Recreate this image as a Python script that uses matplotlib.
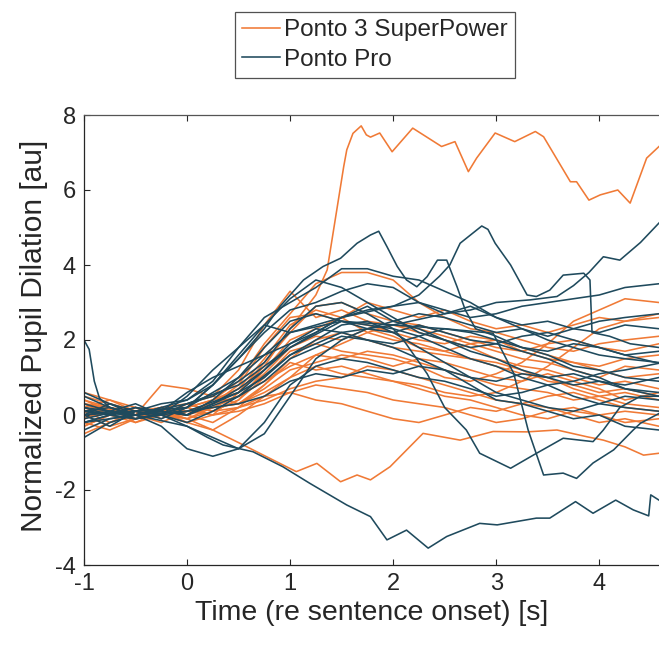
import matplotlib
matplotlib.use("Agg")
import matplotlib.pyplot as plt

plt.rcParams['font.family'] = ['Liberation Sans', 'DejaVu Sans']
plt.rcParams['axes.unicode_minus'] = False

# ---- data ----
t_grid = [-1, -0.75, -0.5, -0.25, 0, 0.25, 0.5, 0.75, 1.0, 1.25, 1.5, 1.75,
          2.0, 2.25, 2.5, 2.75, 3.0, 3.25, 3.5, 3.75, 4.0, 4.25, 4.58]

orange_traces = [
    [0.5, 0.3, 0.1, 0.0, 0.1, 0.3, 0.8, 1.8, 2.6, 2.7, 2.5, 2.4, 2.2, 2.0, 1.9, 2.1, 2.0, 1.7, 1.5, 1.4, 1.3, 1.5, 1.6],
    [0.2, 0.4, 0.1, 0.2, 0.3, 0.5, 1.2, 2.4, 3.3, 2.6, 2.8, 2.5, 2.4, 2.2, 2.0, 1.8, 1.5, 1.3, 1.2, 1.0, 0.8, 0.9, 0.7],
    [-0.3, 0.0, 0.2, -0.1, 0.2, 0.4, 0.9, 1.9, 2.7, 3.5, 3.8, 3.8, 3.6, 3.0, 2.6, 2.3, 2.2, 2.0, 1.8, 1.7, 1.9, 2.0, 2.1],
    [0.1, -0.2, 0.0, 0.1, -0.1, 0.1, 0.4, 1.0, 1.7, 1.9, 1.7, 1.6, 1.5, 1.3, 1.0, 0.9, 1.1, 1.4, 1.9, 2.5, 2.8, 3.1, 3.0],
    [0.4, 0.1, -0.1, 0.0, 0.0, -0.2, 0.2, 0.8, 1.4, 1.2, 1.3, 1.1, 0.9, 0.8, 0.6, 0.5, 0.6, 0.9, 1.3, 1.8, 2.3, 2.5, 2.6],
    [-0.1, 0.2, 0.0, 0.8, 0.7, 0.5, 0.3, 0.8, 1.5, 2.0, 2.2, 2.0, 1.8, 1.7, 1.6, 1.5, 1.3, 1.1, 1.0, 0.7, 0.5, 0.3, 0.2],
    [0.0, -0.3, -0.1, 0.1, 0.0, 0.2, 0.3, 0.6, 1.0, 1.6, 1.9, 2.2, 2.4, 2.3, 2.1, 1.9, 2.0, 1.8, 1.6, 1.4, 1.2, 1.0, 1.1],
    [0.6, 0.4, 0.2, 0.0, -0.2, 0.0, 0.2, 0.4, 0.7, 0.9, 1.0, 1.3, 1.2, 1.0, 0.8, 0.6, 0.4, 0.3, 0.5, 0.6, 0.4, 0.2, 0.1],
    [-0.5, -0.2, 0.1, 0.0, 0.3, 0.1, 0.4, 1.2, 2.0, 2.3, 2.6, 3.0, 2.8, 2.6, 2.8, 2.5, 2.3, 2.4, 2.2, 2.4, 2.6, 2.5, 2.7],
    [0.3, 0.0, -0.2, 0.1, -0.2, -0.4, 0.0, 0.5, 1.0, 1.3, 1.1, 1.0, 0.9, 0.7, 0.5, 0.4, 0.2, 0.0, -0.1, 0.1, 0.0, -0.2, -0.1],
    [0.2, 0.1, 0.0, -0.2, 0.1, 0.0, 0.6, 1.4, 2.2, 2.9, 3.0, 2.7, 2.5, 2.4, 2.2, 2.0, 1.8, 1.7, 1.9, 2.0, 1.8, 1.7, 1.9],
    [-0.2, -0.4, -0.1, 0.2, 0.1, 0.3, 0.5, 0.9, 1.3, 1.6, 1.5, 1.7, 1.6, 1.4, 1.2, 1.0, 0.8, 0.7, 0.6, 0.4, 0.5, 0.6, 0.4],
    [0.1, 0.3, 0.1, 0.0, 0.2, 0.0, 0.1, 0.3, 0.6, 0.8, 0.7, 0.6, 0.4, 0.3, 0.2, 0.0, -0.2, -0.1, 0.1, 0.2, 0.0, 0.1, 0.0],
    [-0.3, 0.0, 0.2, 0.1, -0.1, 0.2, 0.5, 1.1, 1.8, 2.1, 2.0, 2.3, 2.1, 1.8, 1.7, 1.5, 1.4, 1.2, 0.9, 0.8, 0.6, 0.7, 0.5],
    [0.0, 0.2, -0.2, 0.0, 0.1, 0.2, 0.3, 0.7, 1.2, 1.4, 1.6, 1.5, 1.3, 1.5, 1.4, 1.2, 1.0, 0.9, 1.1, 0.9, 0.7, 0.4, 0.6],
    [0.4, 0.2, 0.0, 0.0, 0.3, 0.1, 0.2, 0.5, 0.6, 0.4, 0.3, 0.1, -0.1, -0.2, 0.0, 0.2, 0.1, 0.3, 0.2, 0.0, -0.2, -0.1, -0.3],
    [-0.1, 0.1, 0.0, 0.2, 0.0, 0.4, 0.7, 1.5, 2.4, 2.8, 2.6, 2.2, 2.0, 1.9, 1.7, 1.9, 1.7, 1.5, 1.4, 1.2, 1.0, 1.3, 1.2],
]

blue_traces = [
    [0.0, 0.3, 0.1, -0.1, 0.2, 0.8, 1.5, 2.2, 2.8, 3.0, 3.3, 3.5, 3.4, 3.0, 2.7, 2.9, 2.6, 2.4, 2.5, 2.3, 2.2, 2.4, 2.3],
    [-0.2, 0.0, 0.1, 0.3, 0.4, 0.9, 1.8, 2.6, 3.0, 3.4, 3.9, 3.9, 3.7, 3.6, 3.3, 3.0, 2.6, 2.3, 2.0, 1.8, 1.6, 1.5, 1.4],
    [0.3, 0.1, -0.1, 0.0, -0.3, -0.6, -0.9, -0.5, 0.5, 1.5, 2.0, 2.3, 2.2, 2.4, 2.2, 2.0, 1.9, 2.1, 2.2, 2.0, 1.8, 1.6, 1.38],
    [-0.4, -0.1, 0.0, -0.3, -0.9, -1.1, -0.9, -0.2, 0.8, 1.3, 1.5, 1.4, 1.2, 1.0, 0.9, 0.7, 0.5, 0.6, 0.8, 0.9, 1.1, 1.2, 1.38],
    [0.1, 0.2, 0.0, 0.1, 0.6, 1.0, 1.3, 1.6, 1.9, 2.2, 2.6, 2.8, 2.9, 3.0, 2.8, 2.6, 2.7, 2.9, 3.0, 3.1, 3.2, 3.4, 3.5],
    [-0.2, 0.0, 0.2, 0.0, 0.3, 0.5, 0.9, 1.4, 2.3, 2.9, 3.0, 2.7, 2.3, 2.1, 1.8, 1.5, 1.3, 1.0, 0.8, 0.5, 0.3, 0.2, 0.1],
    [0.5, 0.2, 0.0, 0.1, 0.0, 0.3, 0.6, 1.0, 1.6, 2.0, 2.4, 2.5, 2.2, 1.8, 1.4, 1.0, 0.6, 0.4, 0.2, 0.1, 0.3, 0.5, 0.4],
    [0.0, -0.3, 0.1, 0.0, 0.1, 0.2, 0.3, 0.5, 0.9, 1.1, 1.0, 1.2, 1.1, 1.3, 1.2, 1.0, 0.9, 1.1, 1.0, 0.8, 0.9, 0.7, 0.6],
    [-0.6, -0.2, 0.0, 0.2, 0.0, 0.4, 1.0, 1.8, 2.5, 2.7, 2.5, 2.3, 2.5, 2.7, 2.6, 2.4, 2.2, 2.3, 2.1, 2.3, 2.5, 2.6, 2.7],
    [0.2, 0.0, -0.1, 0.0, -0.2, 0.1, 0.5, 0.9, 1.5, 1.8, 2.1, 2.0, 1.8, 1.5, 1.2, 0.8, 0.4, 0.3, 0.1, -0.1, 0.0, -0.3, -0.4],
    [0.6, 0.3, 0.0, 0.2, 0.4, 0.8, 1.6, 2.4, 3.1, 3.6, 3.4, 3.0, 2.6, 2.2, 2.0, 1.8, 1.9, 1.7, 1.5, 1.2, 1.0, 0.7, 0.5],
    [0.0, 0.1, 0.3, 0.0, 0.5, 1.2, 1.8, 2.4, 2.2, 2.4, 2.6, 2.9, 2.5, 2.3, 2.0, 1.7, 1.5, 1.2, 1.0, 1.1, 0.9, 0.8, 1.0],
]

# orange outlier (goes up to ~7.7)
orange_high_t = [-1, -0.5, 0, 0.5, 0.75, 1.0, 1.25, 1.36, 1.52, 1.55, 1.61, 1.69, 1.74, 1.78, 1.87, 1.99,
                 2.19, 2.47, 2.60, 2.73, 2.81, 2.99, 3.18, 3.38, 3.46, 3.72, 3.78, 3.90, 4.01, 4.18,
                 4.30, 4.46, 4.58]
orange_high_y = [0.3, 0.0, 0.2, 0.6, 1.3, 2.3, 3.2, 3.87, 6.62, 7.07, 7.51, 7.71, 7.47, 7.41, 7.52, 7.02,
                 7.65, 7.16, 7.29, 6.49, 6.85, 7.52, 7.29, 7.56, 7.42, 6.22, 6.22, 5.73, 5.87, 6.0,
                 5.65, 6.85, 7.16]

# orange trace going to ~-1.7
orange_low_t = [-1, -0.5, 0, 0.25, 0.51, 0.77, 1.06, 1.26, 1.49, 1.65, 1.78, 1.97, 2.29, 2.65, 2.97,
                3.3, 3.59, 3.88, 4.04, 4.25, 4.43, 4.58]
orange_low_y = [0.3, 0.1, -0.1, -0.4, -0.75, -1.11, -1.51, -1.29, -1.78, -1.6, -1.73, -1.38, -0.49,
                -0.67, -0.44, -0.45, -0.40, -0.58, -0.67, -0.85, -1.07, -1.02]

# blue trace going down to ~-3.5
blue_low_t = [-1, -0.5, 0, 0.2, 0.35, 0.64, 0.93, 1.19, 1.55, 1.78, 1.94, 2.13, 2.34, 2.52, 2.84,
              3.01, 3.39, 3.52, 3.77, 3.94, 4.16, 4.33, 4.48, 4.50, 4.58]
blue_low_y = [0.2, 0.0, -0.3, -0.6, -0.8, -0.98, -1.38, -1.82, -2.4, -2.71, -3.33, -3.07, -3.55,
              -3.24, -2.89, -2.93, -2.75, -2.75, -2.31, -2.62, -2.27, -2.53, -2.69, -2.13, -2.27]

# blue trace peaking ~4.9 near 1.8 s
blue_top_t = [-1, -0.5, 0, 0.25, 0.5, 0.75, 0.90, 1.13, 1.32, 1.49, 1.65, 1.78, 1.86, 1.94, 2.04,
              2.13, 2.23, 2.33, 2.43, 2.52, 2.62, 2.70, 2.8, 3.0, 3.25, 3.5, 3.75, 4.0, 4.25, 4.58]
blue_top_y = [0.0, 0.1, 0.2, 0.8, 1.5, 2.3, 2.89, 3.6, 3.96, 4.18, 4.58, 4.8, 4.9, 4.49, 3.96,
              3.6, 3.42, 3.69, 4.13, 4.13, 3.42, 2.8, 2.3, 2.1, 1.8, 1.6, 1.3, 1.2, 1.0, 0.9]

# blue trace peaking ~5 near 2.9 s, then a sudden drop
blue_peak_t = [-1, -0.5, 0, 0.5, 1.0, 1.5, 2.0, 2.25, 2.45, 2.55, 2.65, 2.86, 2.92, 2.99, 3.14,
               3.30, 3.39, 3.52, 3.65, 3.85, 3.91, 3.93, 4.1, 4.3, 4.58]
blue_peak_y = [-0.2, 0.0, 0.1, 0.6, 1.8, 2.6, 2.9, 3.2, 3.7, 4.0, 4.58, 5.04, 4.95, 4.58, 4.0,
               3.2, 3.16, 3.33, 3.73, 3.78, 3.6, 2.2, 2.1, 1.9, 1.8]

# blue trace rising to ~5.1 at the right edge
blue_rise_t = [-1, -0.5, 0, 0.5, 1.0, 1.5, 2.0, 2.5, 2.75, 3.0, 3.33, 3.59, 3.75, 3.9, 4.04, 4.2, 4.4, 4.58]
blue_rise_y = [0.1, -0.1, 0.2, 1.0, 2.2, 2.5, 2.4, 2.7, 2.8, 3.0, 3.07, 3.16, 3.45, 3.8, 4.22, 4.13, 4.6, 5.12]

# blue trace starting at 2
blue_start_t = [-1, -0.95, -0.9, -0.85, -0.75, -0.5, -0.25, 0, 0.25, 0.5, 0.75, 1.0, 1.25, 1.5, 1.75,
                2.0, 2.25, 2.5, 2.75, 3.0, 3.25, 3.5, 3.75, 4.0, 4.25, 4.58]
blue_start_y = [2.0, 1.75, 0.9, 0.45, 0.2, 0.0, 0.1, 0.0, 0.3, 0.7, 1.2, 1.9, 2.3, 2.2, 2.0,
                1.9, 2.1, 2.3, 2.2, 2.0, 1.8, 1.7, 1.9, 1.8, 1.6, 1.7]

# blue traces that dip below zero late
blue_dip1_t = [-1, -0.5, 0, 0.5, 1.0, 1.5, 2.0, 2.1, 2.33, 2.5, 2.71, 2.84, 3.14, 3.36, 3.65, 3.94,
               4.04, 4.2, 4.4, 4.58]
blue_dip1_y = [0.1, 0.0, 0.3, 0.8, 1.8, 2.5, 2.3, 2.0, 1.1, 0.2, -0.4, -1.02, -1.42, -1.07, -0.62,
               -0.71, -0.4, 0.2, 0.5, 0.5]
blue_dip2_t = [-1, -0.5, 0, 0.5, 1.0, 1.5, 2.0, 2.5, 2.97, 3.17, 3.31, 3.46, 3.65, 3.78, 3.94, 4.14,
               4.33, 4.40, 4.58]
blue_dip2_y = [-0.1, 0.2, 0.0, 0.5, 1.6, 2.2, 2.4, 2.3, 2.18, 1.11, -0.4, -1.6, -1.55, -1.69, -1.28,
               -0.93, -0.4, -0.22, 0.04]

legend_labels = ["Ponto 3 SuperPower", "Ponto Pro"]
x_ticks = [-1, 0, 1, 2, 3, 4]
y_ticks = [-4, -2, 0, 2, 4, 6, 8]

# ---- drawing ----
c_orange = '#F07A36'
c_blue = '#1F4A5D'
lw = 1.15

fig = plt.figure(figsize=(6.59, 6.48), dpi=100)
ax = fig.add_axes([84 / 659, 83 / 648, 1 - 84 / 659, 450 / 648])

h_o = None
for tr in orange_traces:
    h_o, = ax.plot(t_grid, tr, color=c_orange, lw=lw)
ax.plot(orange_high_t, orange_high_y, color=c_orange, lw=lw)
ax.plot(orange_low_t, orange_low_y, color=c_orange, lw=lw)

h_b = None
for tr in blue_traces:
    h_b, = ax.plot(t_grid, tr, color=c_blue, lw=lw)
for tt, yy in [(blue_low_t, blue_low_y), (blue_top_t, blue_top_y), (blue_peak_t, blue_peak_y),
               (blue_rise_t, blue_rise_y), (blue_start_t, blue_start_y),
               (blue_dip1_t, blue_dip1_y), (blue_dip2_t, blue_dip2_y)]:
    ax.plot(tt, yy, color=c_blue, lw=lw)

ax.set_xlim(-1, 4.58)
ax.set_ylim(-4, 8)
ax.set_xticks(x_ticks)
ax.set_yticks(y_ticks)
ax.tick_params(direction='in', length=4, width=0.8, top=True, labelsize=17, colors='#262626', pad=6)
for s in ['left', 'bottom', 'top']:
    ax.spines[s].set_color('#262626')
    ax.spines[s].set_linewidth(0.9)
ax.spines['top'].set_color('#555555')
ax.spines['right'].set_visible(False)

ax.set_xlabel('Time (re sentence onset) [s]', fontsize=20.5, color='#262626', labelpad=3)
ax.set_ylabel('Normalized Pupil Dilation [au]', fontsize=21.5, color='#262626')
ax.yaxis.set_label_coords(-0.087, 0.51)
ax.yaxis.label.set_verticalalignment('center')

leg = fig.legend([h_o, h_b], legend_labels, loc='upper center',
                 bbox_to_anchor=(375 / 659, 1 - 12 / 648), fontsize=17.5,
                 frameon=True, fancybox=False, edgecolor='#262626',
                 handlelength=1.55, handletextpad=0.2, borderpad=0.3,
                 labelspacing=0.3, borderaxespad=0)
leg.get_frame().set_linewidth(0.9)
for txt in leg.get_texts():
    txt.set_color('#262626')

fig.savefig('out.png', dpi=100)
